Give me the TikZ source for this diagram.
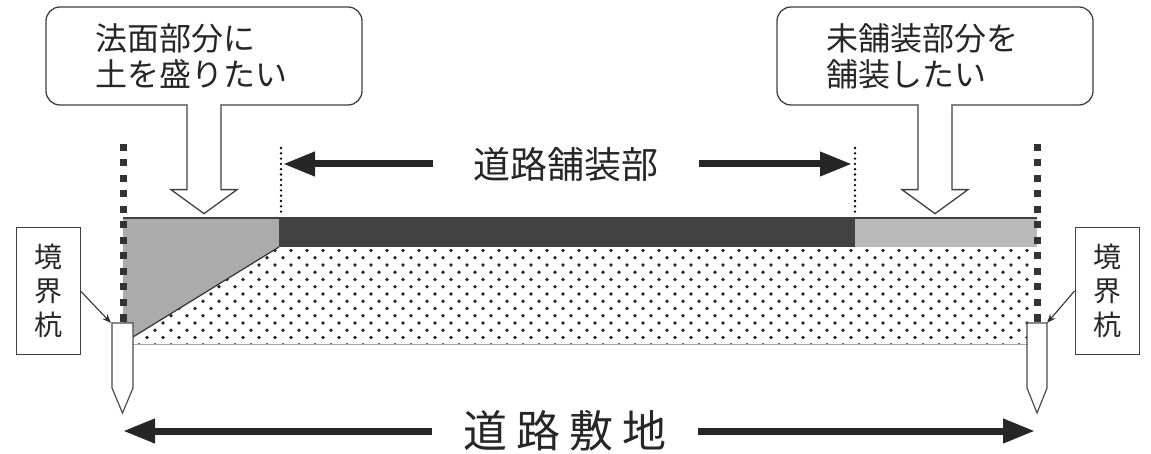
\documentclass[tikz,border=0pt]{standalone}
\usepackage{fontspec}
\usepackage{tikz}
\usetikzlibrary{arrows.meta,positioning,calc}
\newfontfamily\jpfont{Noto Sans CJK JP}
\tikzset{
  callout/.style = {draw=black!75, line width=1.3pt, rounded corners=14pt, fill=white,
    text width=218pt, inner xsep=49pt, minimum height=98pt, align=left, text=black!85,
    font=\jpfont\fontsize{32}{36}\selectfont},
  blockarrow/.style = {draw=black!75, line width=1.3pt, fill=white},
  postlabel/.style = {draw=black!75, line width=1pt, fill=white, align=center, text=black!85,
    minimum width=64pt, minimum height=126pt, inner sep=0pt,
    font=\jpfont\fontsize{28}{34}\selectfont},
  pointer/.style = {-{Stealth[length=9pt,width=7pt]}, black!80, line width=1.1pt},
  roadtext/.style = {text=black!85, inner ysep=0pt},
  bigarrow/.style = {-{Triangle[length=32pt,width=23pt]}, black!85, line width=7pt},
  boundline/.style = {black!80, line width=7pt, dash pattern=on 7pt off 8.5pt},
  fineline/.style = {black, line width=2.6pt, line cap=round, dash pattern=on 0pt off 5.3pt},
  stake/.style = {draw=black!70, fill=white, line width=1.2pt},
}

\begin{document}
\begin{tikzpicture}[x=1pt,y=-1pt]
  \useasboundingbox (0,0) rectangle (1151,454);

  % ground with dots
  \begin{scope}
    \clip (279,247) -- (1030,247) -- (1030,344) -- (133,344) -- (133,337) -- cycle;
    \foreach \j in {0,...,13} {
      \pgfmathsetmacro{\off}{mod(\j,2)*8}
      \foreach \i in {0,...,57} {
        \fill[black!85] ({131+\off+16*\i},{250.5+7.25*\j}) circle (1.8pt);
      }
    }
  \end{scope}
  \draw[black!35, line width=0.8pt] (133,344) -- (1030,344);

  % slope, pavement, unpaved part
  \fill[black!33] (123,218) -- (279,218) -- (279,247) -- (133,337) -- (123,337) -- cycle;
  \fill[black!74] (279,218) rectangle (855,247);
  \fill[black!27] (855,218) rectangle (1037,247);
  \draw[black!75, line width=1.8pt] (123,218) -- (1037,218);
  \draw[black!80, line width=1.2pt] (279,247) -- (133,337);

  % boundaries
  \draw[boundline] (123,144) -- (123,323);
  \draw[boundline] (1037,144) -- (1037,323);
  \draw[fineline] (281,148) -- (281,216);
  \draw[fineline] (855,148) -- (855,216);

  % stakes
  \draw[stake] (112,323) -- (133,323) -- (133,388) -- (122.5,413) -- (112,388) -- cycle;
  \draw[stake] (1027,323) -- (1047,323) -- (1047,388) -- (1037,413) -- (1027,388) -- cycle;
  \coordinate (lstake) at (111,323);
  \coordinate (rstake) at (1047,323);

  % callouts
  \node[callout] (slope) at (204,56) {法面部分に\\土を盛りたい};
  \node[callout] (unpaved) at (935,56) {未舗装部分を\\舗装したい};
  \foreach \c in {slope,unpaved} {
    \fill[white] ([xshift=-16pt,yshift=2pt]\c.south) rectangle ([xshift=16pt,yshift=-2pt]\c.south);
    \draw[blockarrow] ([xshift=-17pt]\c.south) -- ++(0,84) -- ++(-16,0) -- ++(33,24)
      -- ++(33,-24) -- ++(-16,0) -- ++(0,-84);
  }

  % boundary post labels
  \node[postlabel] (lpost) at (48,291) {境\\界\\杭};
  \node[postlabel] (rpost) at (1107,291) {境\\界\\杭};
  \draw[pointer] (lpost.east) -- (lstake);
  \draw[pointer] (rpost.west) -- (rstake);

  % paved part
  \node[roadtext, inner xsep=40pt, font=\jpfont\fontsize{37}{40}\selectfont] (paved) at (566,164) {道路舗装部};
  \coordinate (pavedL) at (283,164);
  \coordinate (pavedR) at (852,164);
  \draw[bigarrow] (paved) -- (pavedL);
  \draw[bigarrow] (paved) -- (pavedR);

  % road site
  \node[roadtext, inner xsep=31pt, font=\jpfont\fontsize{44}{48}\selectfont] (site) at (565,431)
    {道\hspace{9pt}路\hspace{9pt}敷\hspace{9pt}地};
  \coordinate (siteL) at (123,431);
  \coordinate (siteR) at (1035,431);
  \draw[bigarrow] (site) -- (siteL);
  \draw[bigarrow] (site) -- (siteR);
\end{tikzpicture}
\end{document}
